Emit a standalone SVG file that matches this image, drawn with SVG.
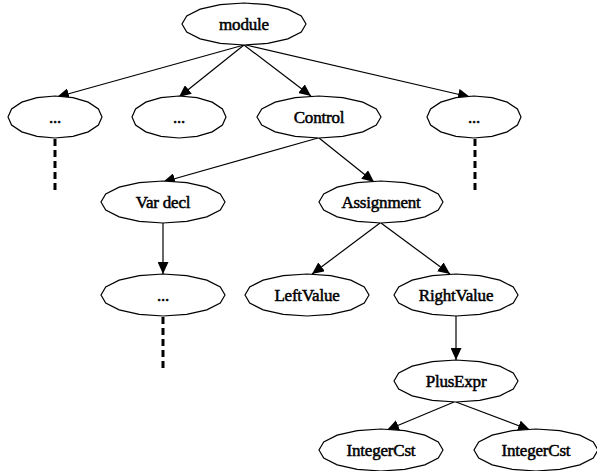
<svg xmlns="http://www.w3.org/2000/svg" width="597" height="471" viewBox="0 0 597 471">
<style>
.node use{fill:#fff;stroke:#000;stroke-width:1.2}
.lbl{font-family:"Liberation Serif","Times New Roman",serif;font-size:17px;text-anchor:middle;fill:#000;stroke:#000;stroke-width:0.5;letter-spacing:-0.2px}
.edge{stroke:#000;stroke-width:1.2;fill:none;marker-end:url(#arr)}
.dash{stroke:#000;stroke-width:3;fill:none;stroke-dasharray:7 4}
</style>
<defs>
<marker id="arr" markerUnits="userSpaceOnUse" markerWidth="13" markerHeight="11" refX="12" refY="5.5" orient="auto">
<path d="M0,0 L12,5.5 L0,11 z" fill="#000"/>
</marker>
<polygon id="big" points="62,0 57.28,8.04 43.84,14.85 23.73,19.4 0,21 -23.73,19.4 -43.84,14.85 -57.28,8.04 -62,0 -57.28,-8.04 -43.84,-14.85 -23.73,-19.4 0,-21 23.73,-19.4 43.84,-14.85 57.28,-8.04"/>
<polygon id="small" points="47,0 43.42,8.04 33.23,14.85 17.99,19.4 0,21 -17.99,19.4 -33.23,14.85 -43.42,8.04 -47,0 -43.42,-8.04 -33.23,-14.85 -17.99,-19.4 0,-21 17.99,-19.4 33.23,-14.85 43.42,-8.04"/>
</defs>
<rect width="597" height="471" fill="#fff"/>
<g id="connectors">
<line class="edge" x1="244" y1="45" x2="57" y2="97"/>
<line class="edge" x1="244" y1="45" x2="179" y2="97"/>
<line class="edge" x1="244" y1="45" x2="311" y2="96"/>
<line class="edge" x1="246" y1="45" x2="470" y2="97"/>
<line class="edge" x1="318" y1="138" x2="163" y2="182"/>
<line class="edge" x1="319" y1="138" x2="374" y2="182"/>
<line class="edge" x1="163" y1="223" x2="163" y2="274"/>
<line class="edge" x1="380" y1="223" x2="312" y2="274"/>
<line class="edge" x1="381" y1="223" x2="450" y2="274"/>
<line class="edge" x1="456" y1="316" x2="456" y2="360"/>
<line class="edge" x1="454" y1="402" x2="387" y2="430"/>
<line class="edge" x1="456" y1="402" x2="530" y2="430"/>
<line class="dash" x1="55" y1="139" x2="55" y2="190"/>
<line class="dash" x1="475" y1="139" x2="475" y2="190"/>
<line class="dash" x1="163" y1="317" x2="163" y2="368"/>
</g>
<g id="module" class="node"><use href="#big" x="244" y="24"/><text class="lbl" x="244" y="30">module</text></g>
<g id="dots1" class="node"><use href="#small" x="55" y="117"/><text class="lbl" x="55" y="123">...</text></g>
<g id="dots2" class="node"><use href="#small" x="179" y="117"/><text class="lbl" x="179" y="123">...</text></g>
<g id="control" class="node"><use href="#big" x="319" y="117"/><text class="lbl" x="319" y="123">Control</text></g>
<g id="dots4" class="node"><use href="#small" x="474" y="117"/><text class="lbl" x="474" y="123">...</text></g>
<g id="vardecl" class="node"><use href="#big" x="163" y="202"/><text class="lbl" x="163" y="208">Var decl</text></g>
<g id="assignment" class="node"><use href="#big" x="381" y="202"/><text class="lbl" x="381" y="208">Assignment</text></g>
<g id="dots5" class="node"><use href="#big" x="163" y="295"/><text class="lbl" x="163" y="301">...</text></g>
<g id="leftvalue" class="node"><use href="#big" x="307" y="295"/><text class="lbl" x="307" y="301">LeftValue</text></g>
<g id="rightvalue" class="node"><use href="#big" x="456" y="295"/><text class="lbl" x="456" y="301">RightValue</text></g>
<g id="plusexpr" class="node"><use href="#big" x="456" y="381"/><text class="lbl" x="456" y="387">PlusExpr</text></g>
<g id="int1" class="node"><use href="#big" x="381" y="450"/><text class="lbl" x="381" y="456">IntegerCst</text></g>
<g id="int2" class="node"><use href="#big" x="536" y="450"/><text class="lbl" x="536" y="456">IntegerCst</text></g>
</svg>
